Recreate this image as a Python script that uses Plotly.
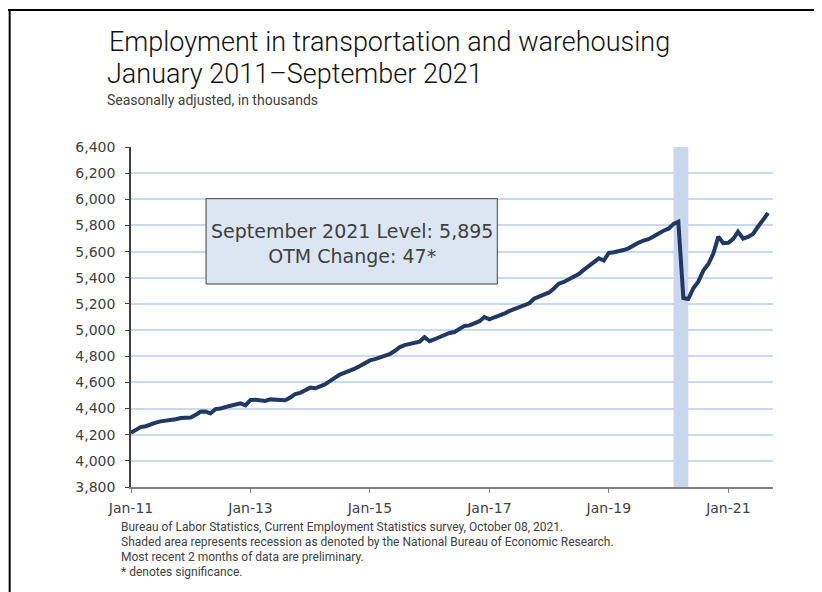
import plotly.graph_objects as go
import pandas as pd

# ---- data (thousands, seasonally adjusted), Jan 2011 .. Sep 2021 ----
start_month = "2011-01-01"
employment = [
    4215, 4240, 4258, 4265, 4282, 4292, 4302, 4305, 4312, 4318, 4328, 4330,   # 2011
    4332, 4352, 4375, 4378, 4362, 4396, 4400, 4412, 4424, 4430, 4440, 4425,   # 2012
    4466, 4467, 4462, 4458, 4470, 4468, 4472, 4464, 4485, 4510, 4520, 4540,   # 2013
    4560, 4555, 4568, 4585, 4610, 4635, 4660, 4675, 4688, 4705, 4725, 4745,   # 2014
    4768, 4778, 4792, 4803, 4815, 4840, 4868, 4885, 4895, 4900, 4912, 4946,   # 2015
    4915, 4930, 4945, 4960, 4978, 4985, 5010, 5032, 5036, 5050, 5068, 5100,   # 2016
    5082, 5098, 5110, 5125, 5145, 5160, 5172, 5186, 5205, 5240, 5255, 5265,   # 2017
    5288, 5320, 5355, 5368, 5390, 5410, 5428, 5460, 5490, 5520, 5548, 5532,   # 2018
    5590, 5595, 5600, 5612, 5625, 5650, 5668, 5684, 5695, 5715, 5740, 5760,   # 2019
    5775, 5812, 5828, 5245, 5237, 5320, 5370, 5455, 5505, 5585, 5715, 5665,   # 2020
    5668, 5700, 5752, 5700, 5712, 5735, 5790, 5845, 5895,                     # 2021
]
months = pd.date_range(start_month, periods=len(employment), freq="MS")

recession_start = "2020-02-01"
recession_end = "2020-05-01"

y_ticks = list(range(3800, 6401, 200))
x_tick_years = [2011, 2013, 2015, 2017, 2019, 2021]
x_tick_labels = ["Jan-11", "Jan-13", "Jan-15", "Jan-17", "Jan-19", "Jan-21"]

title_line1 = "Employment in transportation and warehousing"
title_line2 = "January 2011\u2013September 2021"
subtitle = "Seasonally adjusted, in thousands"
box_text = "September 2021 Level: 5,895<br>OTM Change: 47*"
footnotes = [
    "Bureau of Labor Statistics, Current Employment Statistics survey, October 08, 2021.",
    "Shaded area represents recession as denoted by the National Bureau of Economic Research.",
    "Most recent 2 months of data are preliminary.",
    "* denotes significance.",
]

TICK_FONT = dict(family="DejaVu Sans", size=14, color="#404040")

fig = go.Figure()
fig.add_trace(go.Scatter(
    x=months, y=employment, mode="lines",
    line=dict(color="#1f3864", width=4),
    hoverinfo="skip", showlegend=False,
))

# recession shading (below gridlines)
fig.add_shape(type="rect", xref="x", yref="paper",
              x0=recession_start, x1=recession_end, y0=0, y1=1,
              fillcolor="#c8d7ec", line=dict(width=0), layer="below")

# annotation box
fig.add_shape(type="rect", xref="paper", yref="paper",
              x0=0.1169, x1=0.5706, y0=0.597, y1=0.848,
              fillcolor="#dce6f2", line=dict(color="#404040", width=1), layer="above")
fig.add_annotation(xref="paper", yref="paper", x=0.3437, y=0.715,
                   text=box_text, showarrow=False, align="center",
                   xanchor="center", yanchor="middle",
                   font=dict(family="DejaVu Sans", size=19, color="#404040"))

# titles
fig.add_annotation(xref="paper", yref="paper", x=-0.037, y=1.3088, text=title_line1,
                   showarrow=False, xanchor="left", yanchor="middle",
                   font=dict(family="Roboto", size=27, color="#111111", weight=300))
fig.add_annotation(xref="paper", yref="paper", x=-0.040, y=1.2147, text=title_line2,
                   showarrow=False, xanchor="left", yanchor="middle",
                   font=dict(family="Roboto", size=27, color="#111111", weight=300))
fig.add_annotation(xref="paper", yref="paper", x=-0.040, y=1.1385, text=subtitle,
                   showarrow=False, xanchor="left", yanchor="middle",
                   font=dict(family="Roboto", size=14, color="#404040"))

# footnotes
for i, line in enumerate(footnotes):
    fig.add_annotation(xref="paper", yref="paper", x=-0.018, y=-0.117 - 0.0441 * i,
                       text=line, showarrow=False, xanchor="left", yanchor="middle",
                       font=dict(family="Roboto", size=12, color="#404040"))

# frame lines (top and left)
fig.add_shape(type="line", xref="paper", yref="paper",
              x0=-0.192, x1=1.070, y0=1.403, y1=1.403,
              line=dict(color="#000000", width=2))
fig.add_shape(type="line", xref="paper", yref="paper",
              x0=-0.189, x1=-0.189, y0=1.403, y1=-0.32,
              line=dict(color="#000000", width=2))

# the page body adds an 8px offset, so the figure is 8px smaller than the window
fig.update_layout(
    width=814, height=584,
    margin=dict(l=123, r=49, t=139, b=105),
    paper_bgcolor="white", plot_bgcolor="white",
    showlegend=False,
)
fig.update_xaxes(
    type="date", range=["2011-01-01", "2021-10-01"],
    tickvals=[f"{y}-01-01" for y in x_tick_years], ticktext=x_tick_labels,
    showgrid=False, zeroline=False,
    showline=True, linecolor="#7f7f7f", linewidth=1.5,
    ticks="outside", ticklen=4, tickcolor="#7f7f7f", tickwidth=1,
    ticklabelstandoff=3,
    tickfont=TICK_FONT,
)
fig.update_yaxes(
    range=[3800, 6400], tickvals=y_ticks, tickformat=",d",
    showgrid=True, gridcolor="#c6d9f1", gridwidth=1.5,
    zeroline=False,
    showline=True, linecolor="#404040", linewidth=1.5,
    ticks="outside", ticklen=4, tickcolor="#404040", tickwidth=1,
    ticklabelstandoff=7,
    tickfont=TICK_FONT,
)

fig.write_html("out.html")
